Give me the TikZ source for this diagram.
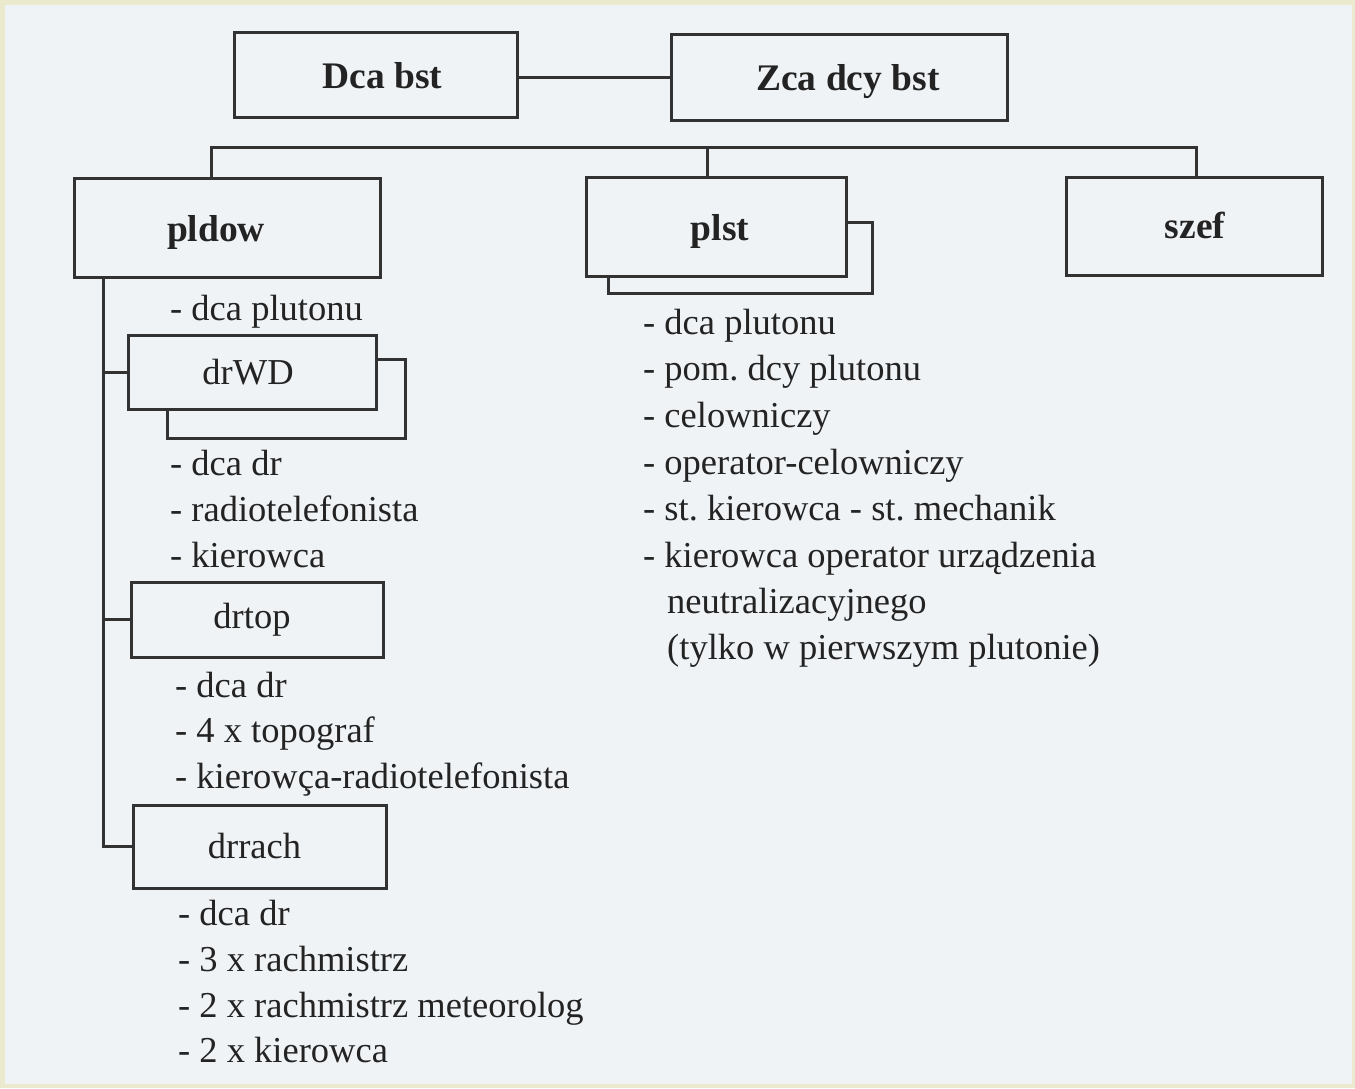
\documentclass[tikz,border=0pt]{standalone}
\usepackage{fontspec}
\setmainfont{Liberation Serif}
\frenchspacing
\definecolor{paper}{RGB}{240,243,246}
\definecolor{frame}{RGB}{236,234,206}
\definecolor{ink}{RGB}{50,50,50}
\definecolor{inktext}{RGB}{35,35,35}
% move a box label sideways (#1) and down (#2) without changing its size
\newcommand{\nudge}[3]{\raisebox{-#2}[\height][\depth]{\hspace*{#1}#3}\hspace*{-#1}}
\begin{document}
\begin{tikzpicture}[x=1pt,y=-1pt,
  box/.style={draw=ink,line width=3pt,fill=paper,inner sep=0pt,
    text=inktext,font=\fontsize{37.5}{40}\selectfont\bfseries},
  subbox/.style={box,font=\fontsize{36.5}{40}\selectfont\mdseries},
  item/.style={anchor=base west,inner sep=0pt,text=inktext,
    font=\fontsize{36.5}{40}\selectfont},
  link/.style={draw=ink,line width=3pt}]
\useasboundingbox (0,0) rectangle (1355,1088);
\fill[frame] (0,0) rectangle (1355,1088);
\fill[paper] (5,5) rectangle (1352,1084);

% command level
\node[box,minimum width=283,minimum height=85] (dca) at (375.5,74.5) {\nudge{7pt}{1pt}{Dca bst}};
\node[box,minimum width=336,minimum height=86] (zca) at (839,77) {\nudge{9pt}{5pt}{Zca dcy bst}};
\draw[link] (zca.west) -- (zca.west -| dca.east);

% bus to the three subunits
\coordinate (busL) at (211,147);
\coordinate (busM) at (707,147);
\coordinate (busR) at (1196,147);

\node[box,minimum width=306,minimum height=99] (pldow) at (227,227.5) {\nudge{-11pt}{5pt}{pldow}};
\draw[link,fill=paper] (608,222) rectangle (872,293);
\node[box,minimum width=260,minimum height=99] (plst) at (716,226.5) {\nudge{4pt}{5pt}{plst}};
\node[box,minimum width=256,minimum height=98] (szef) at (1194,226) {\nudge{1pt}{-1pt}{szef}};

\draw[link] (busL |- pldow.north) -- (busL) -- (busR) -- (busR |- szef.north);
\draw[link] (busM) -- (busM |- plst.north);

% sections of pldow
\draw[link,fill=paper] (167,359) rectangle (405,438);
\node[subbox,minimum width=248,minimum height=74] (drwd) at (252,372) {\nudge{-4pt}{0pt}{drWD}};
\node[subbox,minimum width=252,minimum height=75] (drtop) at (257,619.5) {\nudge{-5pt}{0pt}{drtop}};
\node[subbox,minimum width=253,minimum height=83] (drrach) at (259.5,846.5) {\nudge{-5pt}{0pt}{drrach}};

\coordinate (spine) at (103,0);
\draw[link] (spine |- pldow.south) -- (spine |- drrach.west) -- (drrach.west);
\draw[link] (spine |- drwd.west) -- (drwd.west);
\draw[link] (spine |- drtop.west) -- (drtop.west);

% staff lists
\node[item] (l1) at (170,320) {- dca plutonu};

\node[item] (w1) at (170,475) {- dca dr};
\node[item] (w2) at (170,521) {- radiotelefonista};
\node[item] (w3) at (170,567) {- kierowca};

\node[item] (t1) at (175,697) {- dca dr};
\node[item] (t2) at (175,742) {- 4 x topograf};
\node[item] (t3) at (175,788) {- kierowça-radiotelefonista};

\node[item] (r1) at (178,925) {- dca dr};
\node[item] (r2) at (178,971) {- 3 x rachmistrz};
\node[item] (r3) at (178,1017) {- 2 x rachmistrz meteorolog};
\node[item] (r4) at (178,1062) {- 2 x kierowca};

\node[item] (p1) at (643,334) {- dca plutonu};
\node[item] (p2) at (643,380) {- pom. dcy plutonu};
\node[item] (p3) at (643,427) {- celowniczy};
\node[item] (p4) at (643,474) {- operator-celowniczy};
\node[item] (p5) at (643,520) {- st. kierowca - st. mechanik};
\node[item] (p6) at (643,567) {- kierowca operator urządzenia};
\node[item] (p7) at (667,613) {neutralizacyjnego};
\node[item] (p8) at (667,659) {(tylko w pierwszym plutonie)};
\end{tikzpicture}
\end{document}
